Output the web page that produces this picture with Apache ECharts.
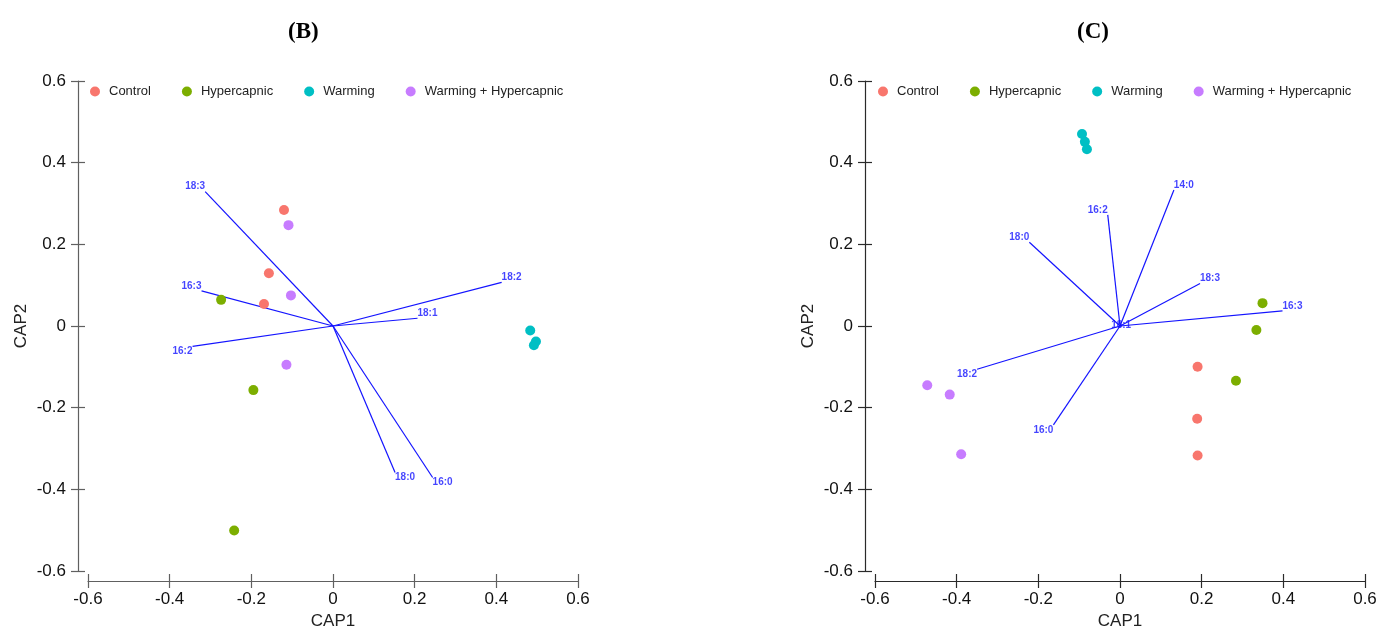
<!DOCTYPE html>
<html>
<head>
<meta charset="utf-8">
<script src="https://cdn.jsdelivr.net/npm/echarts@6/dist/echarts.min.js"></script>
<style>html,body{margin:0;padding:0;background:#fff;}#chart{width:1380px;height:630px;}</style>
</head>
<body>
<div id="chart"></div>
<script>
// ---------- data ----------
const groups = ['Control', 'Hypercapnic', 'Warming', 'Warming + Hypercapnic'];
const groupColors = ['#F8766D', '#7CAE00', '#00BFC4', '#C77CFF'];
const axisTicks = [-0.6, -0.4, -0.2, 0, 0.2, 0.4, 0.6];

// Panel B scores
const bControl = [[-0.120, 0.284], [-0.157, 0.129], [-0.169, 0.054]];
const bHypercapnic = [[-0.274, 0.064], [-0.195, -0.157], [-0.242, -0.501]];
const bWarming = [[0.483, -0.011], [0.492, -0.047], [0.497, -0.038]];
const bWarmHyper = [[-0.109, 0.247], [-0.103, 0.075], [-0.114, -0.095]];
// Panel B vectors
const bVectorNames = ['18:3', '16:3', '16:2', '18:2', '18:1', '18:0', '16:0'];
const bVectorX = [-0.313, -0.322, -0.344, 0.413, 0.207, 0.152, 0.244];
const bVectorY = [0.329, 0.086, -0.050, 0.107, 0.019, -0.359, -0.371];

// Panel C scores
const cControl = [[0.190, -0.100], [0.189, -0.227], [0.190, -0.317]];
const cHypercapnic = [[0.349, 0.056], [0.334, -0.010], [0.284, -0.134]];
const cWarming = [[-0.093, 0.470], [-0.086, 0.451], [-0.081, 0.433]];
const cWarmHyper = [[-0.472, -0.145], [-0.417, -0.168], [-0.389, -0.314]];
// Panel C vectors
const cVectorNames = ['14:0', '16:2', '18:0', '18:3', '16:3', '18:1', '18:2', '16:0'];
const cVectorX = [0.132, -0.030, -0.222, 0.196, 0.398, 0.003, -0.350, -0.163];
const cVectorY = [0.333, 0.272, 0.205, 0.104, 0.037, 0.001, -0.106, -0.242];

// ---------- build ----------
const FONT = "'Liberation Sans', Arial, sans-serif";
const VEC_COLOR = '#1414ff';
const panels = [
  { title: '(B)', titleLeft: 283, gridLeft: 88, legendLeft: 85, axisColor: '#606060',
    scores: [bControl, bHypercapnic, bWarming, bWarmHyper],
    vn: bVectorNames, vx: bVectorX, vy: bVectorY },
  { title: '(C)', titleLeft: 1072, gridLeft: 875, legendLeft: 873, axisColor: '#2a2a2a',
    scores: [cControl, cHypercapnic, cWarming, cWarmHyper],
    vn: cVectorNames, vx: cVectorX, vy: cVectorY }
];

const grid = [], xAxis = [], yAxis = [], series = [], legend = [], title = [];
const fmt = v => String(+(+v).toFixed(1));

panels.forEach((p, i) => {
  grid.push({ left: p.gridLeft, top: 81, width: 490, height: 490, containLabel: false, outerBoundsMode: 'none' });
  title.push({ text: p.title, left: p.titleLeft, top: 16,
    textStyle: { fontFamily: "'Liberation Serif', 'Times New Roman', serif", fontWeight: 'bold', fontSize: 23, color: '#000' } });
  legend.push({ data: groups, left: p.legendLeft, top: 80, orient: 'horizontal', icon: 'circle',
    itemWidth: 18, itemHeight: 10, itemGap: 31,
    textStyle: { fontFamily: FONT, fontSize: 13, color: '#222' } });
  const base = { min: -0.6, max: 0.6, interval: 0.2, type: 'value', gridIndex: i, splitLine: { show: false } };
  const tickStyle = { color: p.axisColor, width: 1.2 };
  // main x axis
  xAxis.push(Object.assign({}, base, {
    position: 'bottom', offset: 10, name: 'CAP1', nameLocation: 'middle', nameGap: 32,
    nameTextStyle: { fontFamily: FONT, fontSize: 17, color: '#222' },
    axisLine: { show: true, onZero: false, lineStyle: { color: p.axisColor, width: 1.2 } },
    axisTick: { show: true, inside: false, length: 7, lineStyle: tickStyle },
    axisLabel: { show: true, margin: 10, formatter: fmt, fontFamily: FONT, fontSize: 17, color: '#111' }
  }));
  // duplicate x axis for inward tick half
  xAxis.push(Object.assign({}, base, {
    position: 'bottom', offset: 10,
    axisLine: { show: false, onZero: false }, axisLabel: { show: false },
    axisTick: { show: true, inside: true, length: 7, lineStyle: tickStyle }
  }));
  yAxis.push(Object.assign({}, base, {
    position: 'left', offset: 10, name: 'CAP2', nameLocation: 'middle', nameGap: 48,
    nameTextStyle: { fontFamily: FONT, fontSize: 17, color: '#222' },
    axisLine: { show: true, onZero: false, lineStyle: { color: p.axisColor, width: 1.2 } },
    axisTick: { show: true, inside: false, length: 7, lineStyle: tickStyle },
    axisLabel: { show: true, margin: 12, formatter: fmt, fontFamily: FONT, fontSize: 17, color: '#111' }
  }));
  yAxis.push(Object.assign({}, base, {
    position: 'left', offset: 10,
    axisLine: { show: false, onZero: false }, axisLabel: { show: false },
    axisTick: { show: true, inside: true, length: 7, lineStyle: tickStyle }
  }));

  const xi = i * 2, yi = i * 2;
  // vectors
  series.push({
    type: 'lines', coordinateSystem: 'cartesian2d', xAxisIndex: xi, yAxisIndex: yi, silent: true, z: 1,
    lineStyle: { color: VEC_COLOR, width: 1.2, opacity: 1, curveness: 0 },
    data: p.vn.map((n, k) => ({ coords: [[0, 0], [p.vx[k], p.vy[k]]] }))
  });
  series.push({
    type: 'scatter', xAxisIndex: xi, yAxisIndex: yi, silent: true, z: 2,
    symbolSize: 0.1, itemStyle: { color: 'rgba(0,0,0,0)' },
    data: p.vn.map((n, k) => {
      const x = p.vx[k], y = p.vy[k];
      const tiny = Math.hypot(x, y) < 0.05;
      return {
        value: [x, y], name: n,
        label: {
          show: true, position: [0, 0], formatter: n,
          align: tiny ? 'center' : (x >= 0 ? 'left' : 'right'),
          verticalAlign: tiny ? 'middle' : (y >= 0 ? 'bottom' : 'top'),
          fontFamily: FONT, fontWeight: 'bold', fontSize: 10, color: VEC_COLOR
        }
      };
    })
  });
  // scores
  groups.forEach((g, gi) => {
    series.push({
      name: g, type: 'scatter', xAxisIndex: xi, yAxisIndex: yi, z: 3,
      symbol: 'circle', symbolSize: 10, itemStyle: { color: groupColors[gi], opacity: 1 },
      data: p.scores[gi]
    });
  });
});

const chart = echarts.init(document.getElementById('chart'), null, { renderer: 'canvas' });
chart.setOption({
  animation: false, backgroundColor: '#fff', color: groupColors,
  title, legend, grid, xAxis, yAxis, series
});
</script>
</body>
</html>
